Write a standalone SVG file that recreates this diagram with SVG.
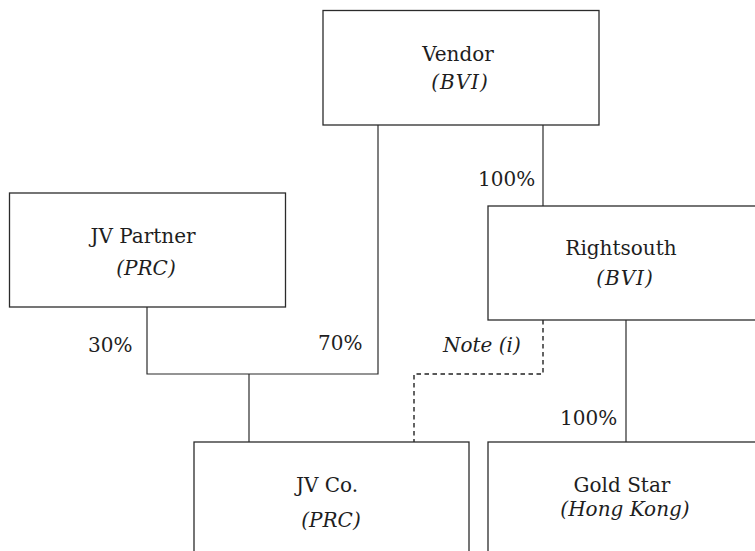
<svg xmlns="http://www.w3.org/2000/svg" width="755" height="551" viewBox="0 0 755 551">
  <style>
    .box { fill: #ffffff; stroke: #2b2b2b; stroke-width: 1.3; }
    .line { fill: none; stroke: #2b2b2b; stroke-width: 1.2; }
    .dash { fill: none; stroke: #222222; stroke-width: 1.4; stroke-dasharray: 4.5 3.5; }
    text { font-family: 'DejaVu Serif', serif; font-size: 20px; fill: #1e1e1e; }
    .t { text-anchor: middle; }
    .i { font-style: italic; }
    .sp { letter-spacing: 1px; }
  </style>
  <rect width="755" height="551" fill="#ffffff"/>

  <g id="connectors">
    <!-- ownership lines -->
    <polyline class="line" points="378,125 378,374 147,374 147,307"/>
    <line class="line" x1="249" y1="374" x2="249" y2="442"/>
    <line class="line" x1="543" y1="125" x2="543" y2="206"/>
    <line class="line" x1="626" y1="320" x2="626" y2="442"/>
    <!-- note link -->
    <polyline class="dash" points="543,320 543,374 414,374 414,442"/>
  </g>

  <g id="vendor">
    <rect class="box" x="323" y="10.5" width="276" height="114.5"/>
    <text class="t" x="458" y="61">Vendor</text>
    <text class="t i sp" x="460" y="89">(BVI)</text>
  </g>

  <g id="jv-partner">
    <rect class="box" x="9.5" y="193" width="276" height="114"/>
    <text class="t" x="143" y="243">JV Partner</text>
    <text class="t i" x="146" y="275">(PRC)</text>
  </g>

  <g id="rightsouth">
    <rect class="box" x="488" y="206" width="276" height="114"/>
    <text class="t" x="621" y="255">Rightsouth</text>
    <text class="t i sp" x="625" y="285">(BVI)</text>
  </g>

  <g id="jv-co">
    <rect class="box" x="194" y="442" width="275" height="120"/>
    <text class="t" x="327" y="492">JV Co.</text>
    <text class="t i" x="331" y="527">(PRC)</text>
  </g>

  <g id="gold-star">
    <rect class="box" x="488" y="442" width="276" height="120"/>
    <text class="t" x="622" y="492">Gold Star</text>
    <text class="t i" x="625" y="516">(Hong Kong)</text>
  </g>

  <g id="labels">
    <text x="88" y="352">30%</text>
    <text x="318" y="350">70%</text>
    <text x="478" y="186">100%</text>
    <text x="560" y="425">100%</text>
    <text class="i" x="443" y="352">Note (i)</text>
  </g>
</svg>
